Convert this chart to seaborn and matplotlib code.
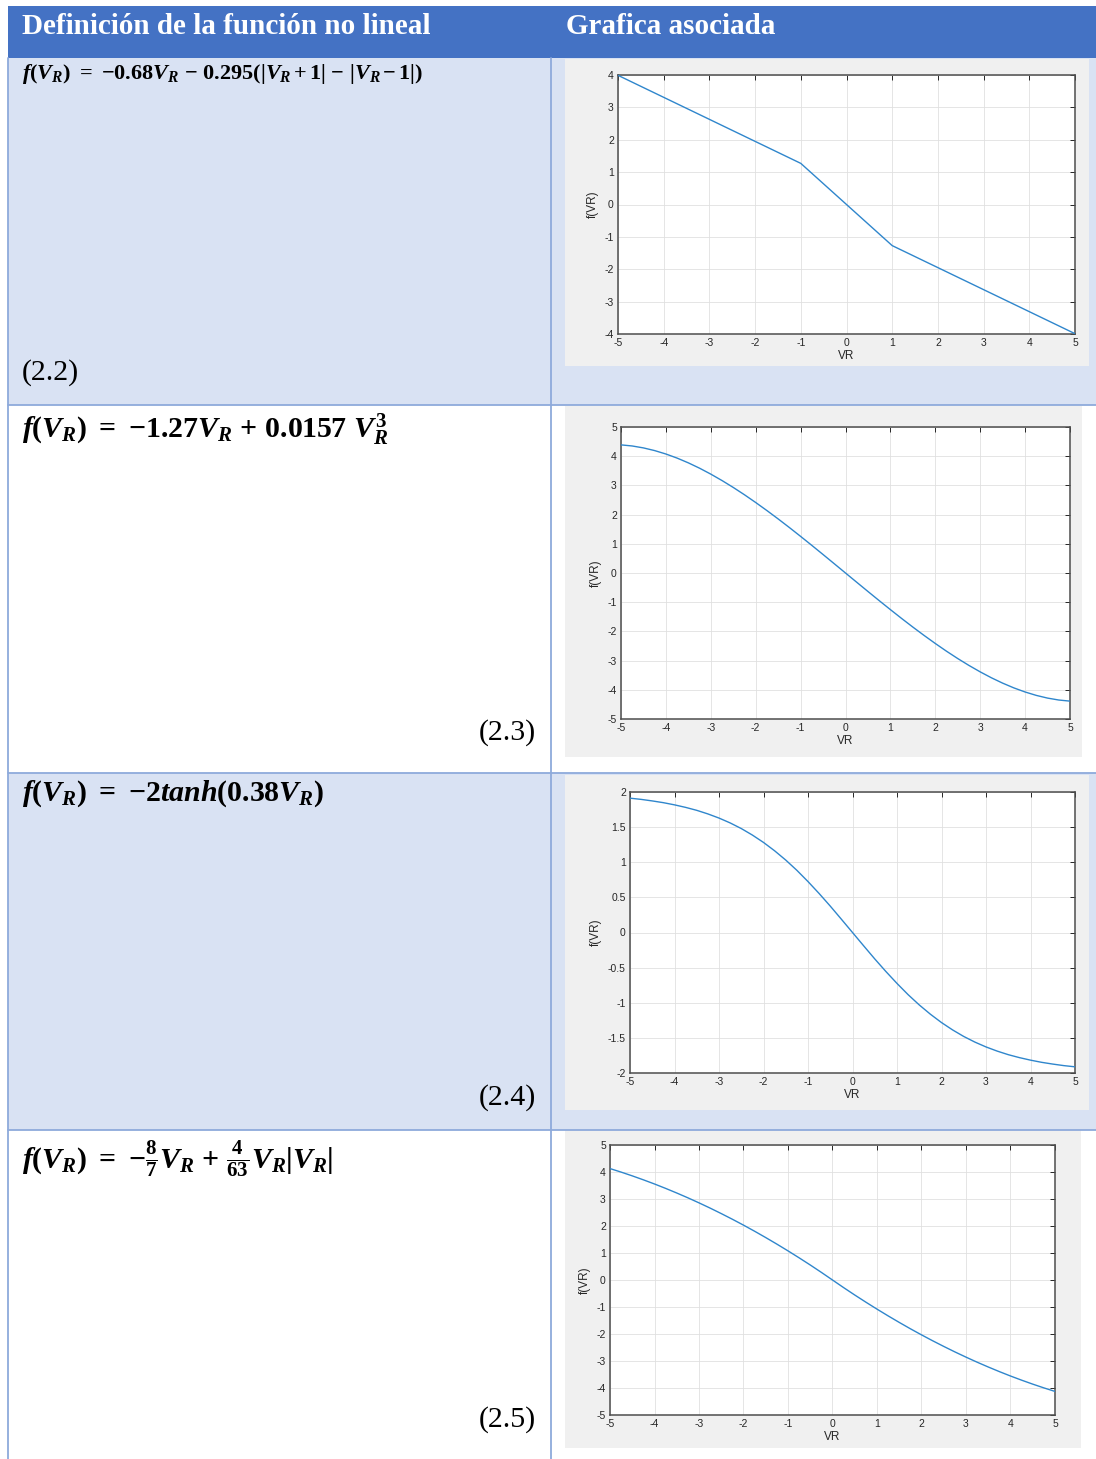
import matplotlib
matplotlib.use("Agg")
import matplotlib.pyplot as plt
from matplotlib.patches import Rectangle
from matplotlib.lines import Line2D
import seaborn as sns
import pandas as pd

# ---------------------------------------------------------------- data
vr_pw = [-5, -1, 1, 5]
f_pw = [3.99, 1.27, -1.27, -3.99]

vr = [-5.0, -4.75, -4.5, -4.25, -4.0, -3.75, -3.5, -3.25, -3.0, -2.75, -2.5,
      -2.25, -2.0, -1.75, -1.5, -1.25, -1.0, -0.75, -0.5, -0.25, 0.0,
      0.25, 0.5, 0.75, 1.0, 1.25, 1.5, 1.75, 2.0, 2.25, 2.5,
      2.75, 3.0, 3.25, 3.5, 3.75, 4.0, 4.25, 4.5, 4.75, 5.0]
f_cubic = [4.388, 4.350, 4.284, 4.192, 4.075, 3.935, 3.772, 3.589, 3.386, 3.166, 2.930,
           2.679, 2.414, 2.138, 1.852, 1.557, 1.254, 0.946, 0.633, 0.317, 0.0,
           -0.317, -0.633, -0.946, -1.254, -1.557, -1.852, -2.138, -2.414, -2.679, -2.930,
           -3.166, -3.386, -3.589, -3.772, -3.935, -4.075, -4.192, -4.284, -4.350, -4.388]
f_tanh = [1.912, 1.895, 1.873, 1.848, 1.817, 1.781, 1.739, 1.688, 1.629, 1.560, 1.480,
          1.387, 1.282, 1.163, 1.031, 0.885, 0.725, 0.555, 0.376, 0.189, 0.0,
          -0.189, -0.376, -0.555, -0.725, -0.885, -1.031, -1.163, -1.282, -1.387, -1.480,
          -1.560, -1.629, -1.688, -1.739, -1.781, -1.817, -1.848, -1.873, -1.895, -1.912]
f_quad = [4.127, 3.996, 3.857, 3.710, 3.556, 3.393, 3.222, 3.044, 2.857, 2.663, 2.460,
          2.250, 2.032, 1.806, 1.571, 1.329, 1.079, 0.821, 0.556, 0.282, 0.0,
          -0.282, -0.556, -0.821, -1.079, -1.329, -1.571, -1.806, -2.032, -2.250, -2.460,
          -2.663, -2.857, -3.044, -3.222, -3.393, -3.556, -3.710, -3.857, -3.996, -4.127]

header_left = "Definición de la función no lineal"
header_right = "Grafica asociada"
formulas = [
    r"$f(V_R)\ =\ {-0.68}V_R\ {-}\ 0.295(|V_R\,{+}\,1|\ {-}\ |V_R\,{-}\,1|)$",
    r"$f(V_R)\ =\ {-1.27}V_R\ {+}\ 0.0157\ V_R^3$",
    r"$f(V_R)\ =\ {-2}tanh(0.38V_R)$",
    r"$f(V_R)\ =\ {-\frac{8}{7}}V_R\ {+}\ \frac{4}{63}V_R|V_R|$",
]
eq_labels = ["(2.2)", "(2.3)", "(2.4)", "(2.5)"]
x_ticks = [-5, -4, -3, -2, -1, 0, 1, 2, 3, 4, 5]
y_ticks = [
    [-4, -3, -2, -1, 0, 1, 2, 3, 4],
    [-5, -4, -3, -2, -1, 0, 1, 2, 3, 4, 5],
    [-2, -1.5, -1, -0.5, 0, 0.5, 1, 1.5, 2],
    [-5, -4, -3, -2, -1, 0, 1, 2, 3, 4, 5],
]
y_ticklabels = [
    ["-4", "-3", "-2", "-1", "0", "1", "2", "3", "4"],
    ["-5", "-4", "-3", "-2", "-1", "0", "1", "2", "3", "4", "5"],
    ["-2", "-1.5", "-1", "-0.5", "0", "0.5", "1", "1.5", "2"],
    ["-5", "-4", "-3", "-2", "-1", "0", "1", "2", "3", "4", "5"],
]

# ---------------------------------------------------------------- style
sns.set_theme(style="white")
plt.rcParams['font.family'] = ['Liberation Sans', 'DejaVu Sans']
plt.rcParams['mathtext.fontset'] = 'custom'
plt.rcParams['mathtext.rm'] = 'Liberation Serif:bold'
plt.rcParams['mathtext.it'] = 'Liberation Serif:italic:bold'
plt.rcParams['mathtext.bf'] = 'Liberation Serif:bold'
plt.rcParams['mathtext.sf'] = 'Liberation Serif:bold'

W, H = 1096, 1459
fig = plt.figure(figsize=(W / 100, H / 100), dpi=100)
fig.patch.set_facecolor("white")

HEADER = "#4472C4"
BAND = "#D9E2F3"
RULE = "#8EAADB"
PANEL = "#F0F0F0"
LINE = "#2F86CC"
INK = "#262626"


def box(x0, y0, x1, y1, color, z=0):
    fig.add_artist(Rectangle((x0 / W, 1 - y1 / H), (x1 - x0) / W, (y1 - y0) / H,
                             transform=fig.transFigure, facecolor=color,
                             edgecolor="none", zorder=z))


def rule(x0, y0, x1, y1):
    fig.add_artist(Line2D([x0 / W, x1 / W], [1 - y0 / H, 1 - y1 / H],
                          transform=fig.transFigure, color=RULE, lw=1.3, zorder=2))


# table background
box(8, 6, W, 58, HEADER)
box(8, 58, W, 405, BAND)
box(8, 773, W, 1130, BAND)
for y in (405, 773, 1130):
    rule(8, y, W, y)
rule(8, 58, 8, H)
rule(551, 58, 551, H)

fig.text(22 / W, 1 - 27 / H, header_left, color="white", fontsize=21,
         fontweight="bold", family="Liberation Serif", va="center", ha="left")
fig.text(566 / W, 1 - 27 / H, header_right, color="white", fontsize=21,
         fontweight="bold", family="Liberation Serif", va="center", ha="left")

# formulas and equation numbers
formula_pos = [(74, 16), (429, 21.5), (794, 21.5), (1159, 21.5)]
for txt, (yc, fs) in zip(formulas, formula_pos):
    fig.text(22 / W, 1 - yc / H, txt, fontsize=fs, va="center", ha="left", color="black")

fig.text(22 / W, 1 - 373 / H, eq_labels[0], fontsize=21.5, family="Liberation Serif",
         va="center", ha="left", color="black")
for lab, yc in zip(eq_labels[1:], (733, 1098, 1420)):
    fig.text(536 / W, 1 - yc / H, lab, fontsize=21.5, family="Liberation Serif",
             va="center", ha="right", color="black")

# plot panels: (panel box), (axes box), y range
panels = [
    ((565, 59, 1089, 366), (618, 75, 1075, 334), (-4, 4)),
    ((565, 406, 1082, 757), (621, 427, 1070, 719), (-5, 5)),
    ((565, 775, 1089, 1110), (630, 792, 1075, 1073), (-2, 2)),
    ((565, 1130, 1081, 1448), (610, 1145, 1055, 1415), (-5, 5)),
]
curves = [
    pd.DataFrame({"VR": vr_pw, "f": f_pw}),
    pd.DataFrame({"VR": vr, "f": f_cubic}),
    pd.DataFrame({"VR": vr, "f": f_tanh}),
    pd.DataFrame({"VR": vr, "f": f_quad}),
]

for i, ((px0, py0, px1, py1), (ax0, ay0, ax1, ay1), ylim) in enumerate(panels):
    box(px0, py0, px1, py1, PANEL, z=1)
    ax = fig.add_axes([ax0 / W, 1 - ay1 / H, (ax1 - ax0) / W, (ay1 - ay0) / H])
    ax.set_zorder(3)
    ax.set_facecolor("white")
    sns.lineplot(data=curves[i], x="VR", y="f", ax=ax, color=LINE, linewidth=1.0,
                 zorder=3)
    ax.set_xlim(-5, 5)
    ax.set_ylim(*ylim)
    ax.set_xticks(x_ticks)
    ax.set_xticklabels([str(t) for t in x_ticks])
    ax.set_yticks(y_ticks[i])
    ax.set_yticklabels(y_ticklabels[i])
    ax.grid(True, color="#E0E0E0", linewidth=0.6)
    ax.set_axisbelow(True)
    for sp in ax.spines.values():
        sp.set_visible(True)
        sp.set_color("#4D4D4D")
        sp.set_linewidth(1.1)
    ax.tick_params(direction="in", top=True, right=True, length=3.5, width=0.7,
                   color=INK, labelsize=7.5, labelcolor=INK, pad=3)
    ax.set_xlabel("VR", fontsize=8.5, color=INK, labelpad=1)
    ax.set_ylabel("f(VR)", fontsize=8.5, color=INK, labelpad=4)

fig.savefig("out.png", dpi=100)
